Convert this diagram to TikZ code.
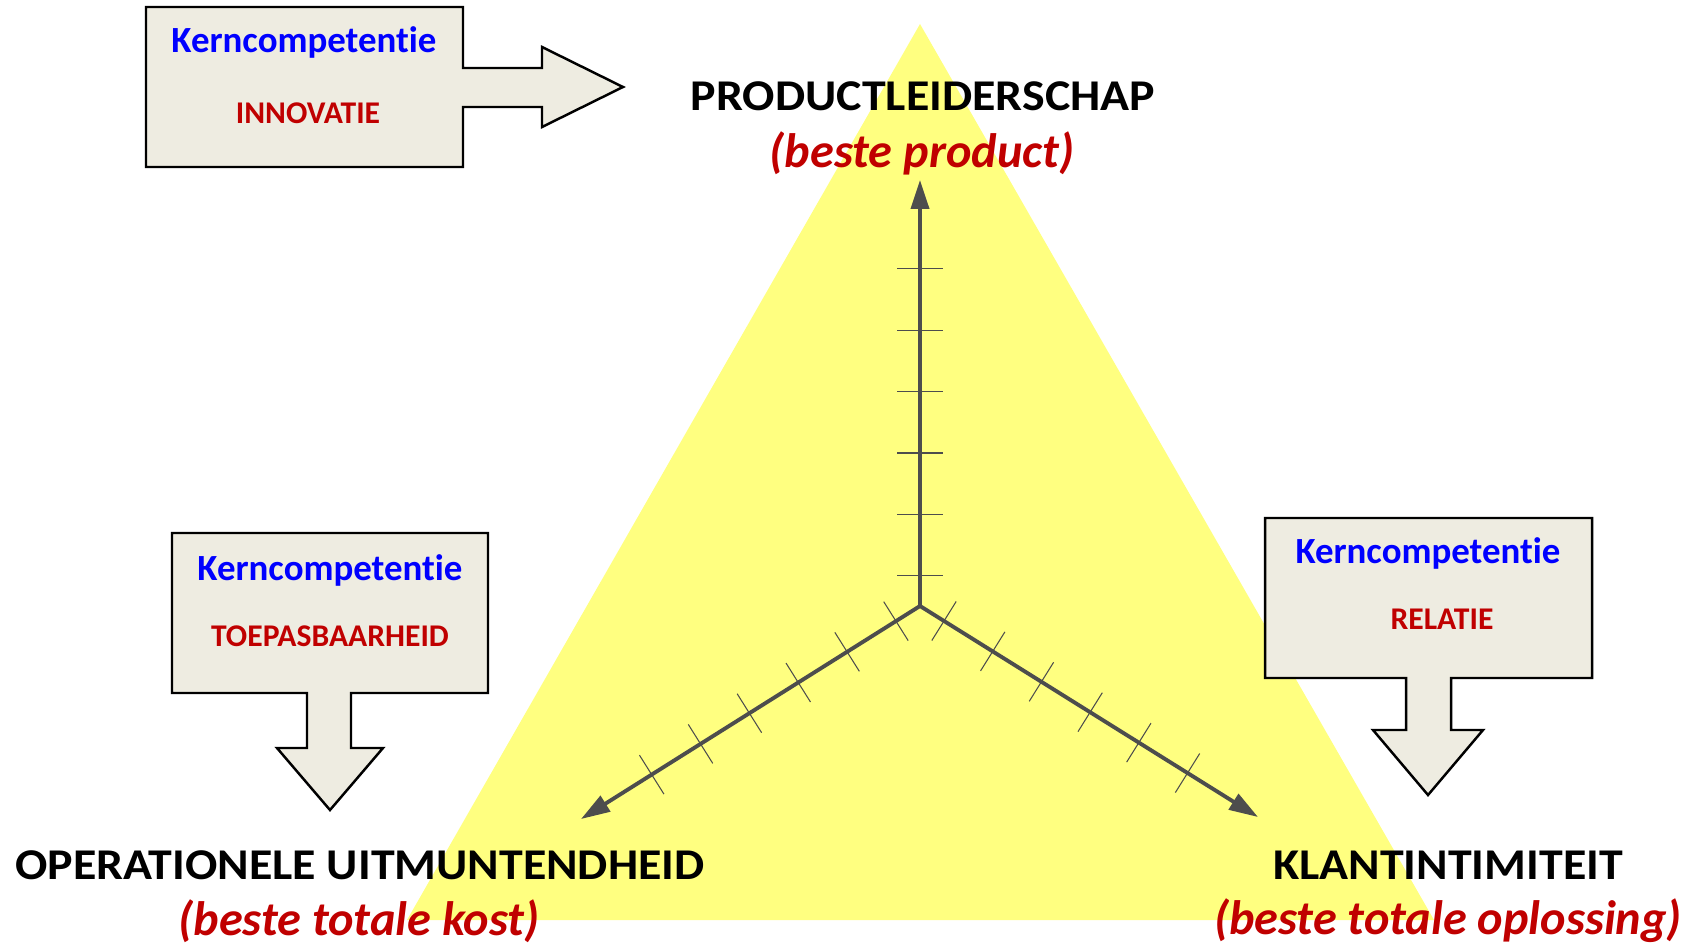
\documentclass[tikz,border=0pt]{standalone}
\usepackage{fontspec}
\setmainfont{Carlito}[Ligatures=NoCommon]
\usetikzlibrary{arrows.meta,calc}
\definecolor{kred}{HTML}{C00000}
\definecolor{kblue}{HTML}{0000FF}
\definecolor{boxfill}{HTML}{EEECE1}
\definecolor{triyellow}{HTML}{FFFF80}
\definecolor{axisgray}{HTML}{4D4D4D}
\newcommand{\stretchtxt}[1]{\scalebox{1.09}[1]{#1}}
\begin{document}
\begin{tikzpicture}[x=0.02cm, y=-0.02cm,
	callout/.style={fill=boxfill, draw=black, line width=1.4pt, line join=miter},
	axis/.style={draw=axisgray, line width=2.2pt, -{Triangle[length=0.58cm, width=0.36cm]}},
	tickmark/.style={draw=axisgray, line width=0.6pt},
	kern/.style={anchor=base, text=kblue, font=\fontsize{21}{25}\selectfont\bfseries},
	comp/.style={anchor=base, text=kred, font=\fontsize{18}{22}\selectfont\bfseries},
	title/.style={anchor=base, text=black, font=\fontsize{25}{30}\selectfont\bfseries},
	sub/.style={anchor=base, text=kred, font=\fontsize{27.5}{33}\selectfont\bfseries\itshape}]
	\useasboundingbox (0,0) rectangle (1692,946);
	
	% Triangle
	\fill[triyellow] (920,24) -- (407,920) -- (1434,920) -- cycle;
	
	% Callouts
	\draw[callout] (146,7) -- (463,7) -- (463,68) -- (542,68) -- (542,47) -- (623,87) -- (542,127) -- (542,107) -- (463,107) -- (463,167) -- (146,167) -- cycle;
	\draw[callout] (172,533) -- (488,533) -- (488,693) -- (351,693) -- (351,748) -- (383,748) -- (330,810) -- (277,748) -- (307,748) -- (307,693) -- (172,693) -- cycle;
	\draw[callout] (1265,518) -- (1592,518) -- (1592,678) -- (1451,678) -- (1451,730) -- (1483,730) -- (1428,795) -- (1373,730) -- (1406,730) -- (1406,678) -- (1265,678) -- cycle;
	\node[kern] (kinno) at (304,53) {Kerncompetentie};
	\node[comp] (inno) at (308,123) {INNOVATIE};
	\node[kern] (ktoep) at (330,580) {Kerncompetentie};
	\node[comp] (toep) at (330,646) {TOEPASBAARHEID};
	\node[kern] (krel) at (1428,563) {Kerncompetentie};
	\node[comp] (rel) at (1442,629) {RELATIE};
	
	% Strategies
	\node[title] (prod) at (923,111) {\stretchtxt{PRODUCTLEIDERSCHAP}};
	\node[sub] (prodsub) at (922,167) {(beste product)};
	\node[title] (oper) at (360,879) {\stretchtxt{OPERATIONELE UITMUNTENDHEID}};
	\node[sub] (opersub) at (359,935) {(beste totale kost)};
	\node[title] (klant) at (1448,879) {\stretchtxt{KLANTINTIMITEIT}};
	\node[sub] (klantsub) at (1448,934) {(beste totale oplossing)};
	
	% Axes
	\coordinate (o) at (920,606);
	\coordinate (pl) at (920,180);
	\coordinate (ou) at (581,819);
	\coordinate (ki) at (1258,817);
	\foreach \tip in {pl,ou,ki} {
		\foreach \k in {0,...,5} {
			\draw[tickmark] ($(o)!{0.071+0.1441*\k}!(\tip)!0.46cm!90:(\tip)$) -- ($(o)!{0.071+0.1441*\k}!(\tip)!0.46cm!-90:(\tip)$);
		}
		\draw[axis] (o) -- (\tip);
	}
	
\end{tikzpicture}
\end{document}
